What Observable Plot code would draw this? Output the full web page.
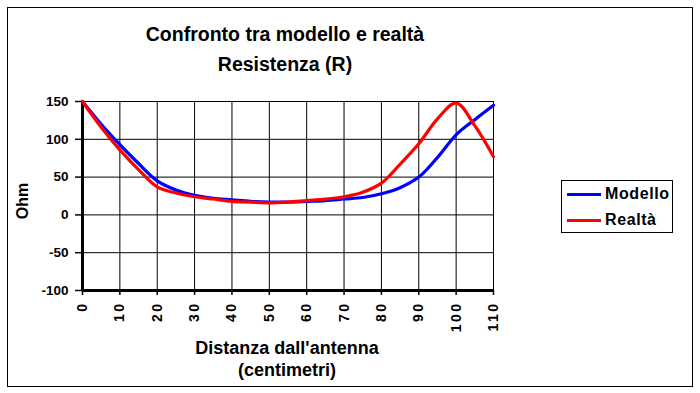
<!DOCTYPE html>
<html>
<head>
<meta charset="utf-8">
<script src="https://cdn.jsdelivr.net/npm/d3@7"></script>
<script src="https://cdn.jsdelivr.net/npm/@observablehq/plot@0.6"></script>
<style>
  html, body { margin: 0; padding: 0; background: #fff; }
  #wrap { position: relative; width: 700px; height: 393px; overflow: hidden; font-family: "Liberation Sans", Arial, sans-serif; font-weight: bold; color: #000; }
  #wrap svg { position: absolute; left: 0; top: 0; }
  .abs { position: absolute; white-space: nowrap; line-height: 1; }
</style>
</head>
<body>
<div id="wrap"></div>
<script>
const distances = [0,5,10,15,20,25,30,35,40,45,50,55,60,65,70,75,80,85,90,95,100,105,110];
const modello   = [150,120,93,68,45,33,26,22,20,18,17,17,18,19,21,23,28,36,50,76,106,126,145];
const realta    = [150,116,86,60,37,29,24,21,18,17,16,17,19,21,24,30,42,67,94,127,148,118,77];
const xTicks = [0,10,20,30,40,50,60,70,80,90,100,110];
const yTicks = [-100,-50,0,50,100,150];
const seriesNames = ["Modello", "Realtà"];
const seriesColors = ["#0000ff", "#ff0000"];

const rows = [];
distances.forEach((d, i) => {
  rows.push({x: d, y: modello[i], s: seriesNames[0]});
  rows.push({x: d, y: realta[i], s: seriesNames[1]});
});

const chart = Plot.plot({
  width: 700,
  height: 393,
  marginLeft: 82,
  marginRight: 207,
  marginTop: 101,
  marginBottom: 103,
  style: {fontFamily: "'Liberation Sans', Arial, sans-serif", fontWeight: "bold", fontSize: "13.5px", background: "transparent", color: "#000"},
  x: {domain: [0, 110], ticks: xTicks},
  y: {domain: [-100, 150], ticks: yTicks},
  color: {domain: seriesNames, range: seriesColors},
  marks: [
    Plot.gridX(xTicks, {stroke: "#000", strokeOpacity: 1, strokeWidth: 1}),
    Plot.gridY(yTicks, {stroke: "#000", strokeOpacity: 1, strokeWidth: 1}),
    Plot.axisY({ticks: yTicks, tickSize: 7, tickPadding: 7, tickFormat: d => String(d), label: null, stroke: "#000", strokeWidth: 1.5}),
    Plot.axisX({ticks: xTicks, tickSize: 5, tickPadding: 6, tickRotate: -90, tickFormat: d => String(d), fontSize: 14, label: null, stroke: "#000", strokeWidth: 1.5}),
    Plot.ruleX([0], {stroke: "#000", strokeWidth: 3}),
    Plot.ruleY([-100], {stroke: "#000", strokeWidth: 3}),
    Plot.line(rows, {x: "x", y: "y", stroke: "s", z: "s", strokeWidth: 3.2, curve: "catmull-rom"})
  ]
});

const wrap = document.getElementById("wrap");
wrap.appendChild(chart);

// widen the rotated x tick labels as in the reference
d3.select(chart).selectAll('g[aria-label="x-axis tick label"] text').style("letter-spacing", "2.5px");

function addText(txt, css) {
  const el = document.createElement("div");
  el.className = "abs";
  el.textContent = txt;
  Object.assign(el.style, css);
  wrap.appendChild(el);
  return el;
}

// outer border
const border = document.createElement("div");
Object.assign(border.style, {position: "absolute", left: "7px", top: "7px", width: "684px", height: "378px", border: "1px solid #000"});
wrap.appendChild(border);

// titles
addText("Confronto tra modello e realtà", {left: "0px", width: "570px", top: "25px", textAlign: "center", fontSize: "19.5px"});
addText("Resistenza (R)", {left: "0px", width: "570px", top: "55px", textAlign: "center", fontSize: "19.5px"});
// axis titles
addText("Distanza dall'antenna", {left: "0px", width: "574px", top: "339px", textAlign: "center", fontSize: "18px"});
addText("(centimetri)", {left: "0px", width: "574px", top: "361px", textAlign: "center", fontSize: "18px"});
addText("Ohm", {left: "3px", top: "193px", width: "40px", textAlign: "center", fontSize: "16px", transform: "rotate(-90deg)"});

// legend
const leg = document.createElement("div");
Object.assign(leg.style, {position: "absolute", left: "561px", top: "180px", width: "110px", height: "51px", border: "1px solid #000", background: "#fff"});
wrap.appendChild(leg);
seriesNames.forEach((n, i) => {
  const line = document.createElement("div");
  Object.assign(line.style, {position: "absolute", left: "5px", top: (12 + i * 26) + "px", width: "34px", height: "3px", background: seriesColors[i]});
  leg.appendChild(line);
  const t = document.createElement("div");
  t.textContent = n;
  Object.assign(t.style, {position: "absolute", left: "43px", top: (5 + i * 26) + "px", fontSize: "16px", lineHeight: "1", letterSpacing: "0.6px", whiteSpace: "nowrap"});
  leg.appendChild(t);
});
</script>
</body>
</html>
